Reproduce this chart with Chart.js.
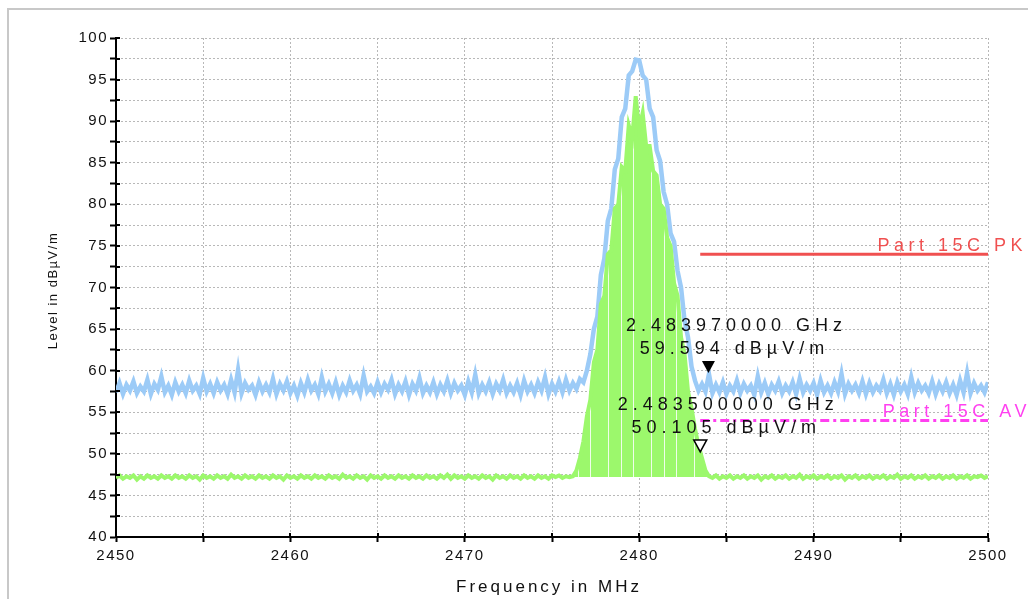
<!DOCTYPE html>
<html>
<head>
<meta charset="utf-8">
<script src="https://cdn.jsdelivr.net/npm/chart.js@4/dist/chart.umd.min.js"></script>
<style>
  body { margin: 0; background: #fff; }
  #spektrum { display: block; }
</style>
</head>
<body>
<canvas id="spektrum" width="1028" height="599"></canvas>
<script>
// sweep: 2450..2500 MHz, one reading every 0.2 MHz
const startMHz = 2450;
const stepMHz = 0.2;

// peak detector trace (blue), dBµV/m
const pkLevels = [
  57.4, 58.5, 57.2, 58.3, 57.6, 58.7, 57.3, 58.1, 57.5, 58.9,
  57.2, 58.4, 57.7, 59.3, 57.4, 58.2, 57.1, 58.6, 57.5, 58.3,
  57.3, 58.8, 57.6, 58.2, 57.2, 59.1, 57.5, 58.4, 57.3, 58.6,
  57.6, 58.3, 57.2, 58.9, 57.4, 60.1, 57.3, 58.5, 57.7, 58.2,
  57.1, 58.6, 57.5, 58.3, 57.4, 59.0, 57.2, 58.4, 57.6, 58.7,
  57.3, 58.2, 57.0, 58.5, 57.4, 58.9, 57.6, 58.3, 57.2, 59.2,
  57.5, 58.4, 57.3, 58.6, 57.1, 58.2, 57.4, 58.8, 57.6, 58.3,
  57.2, 59.4, 57.5, 58.1, 57.3, 58.6, 57.4, 58.4, 57.7, 58.9,
  57.2, 58.3, 57.5, 58.7, 57.1, 58.4, 57.6, 59.1, 57.3, 58.2,
  57.4, 58.6, 57.2, 58.3, 57.5, 58.8, 57.3, 58.5, 57.6, 58.2,
  57.1, 58.7, 57.4, 59.5, 57.3, 58.3, 57.5, 58.6, 57.2, 58.4,
  57.6, 58.9, 57.3, 58.2, 57.4, 58.5, 57.1, 58.8, 57.5, 58.3,
  57.3, 58.6, 57.6, 59.2, 57.2, 58.4, 57.5, 58.7, 57.4, 58.9,
  57.6, 58.5, 57.8, 59.0,
  58.6, 60.0, 62.0, 65.0, 66.5, 71.5, 73.5, 78.0, 79.5, 84.2,
  85.5, 90.5, 91.5, 95.5, 96.0, 97.4, 97.3, 95.5, 95.0, 91.5,
  90.5, 86.5, 85.2, 81.5, 80.0, 76.5, 75.5, 72.0, 70.0, 66.0,
  64.0, 60.5, 58.8, 57.6,
  58.4, 57.5, 59.6, 57.3,
  58.3, 57.4, 58.6, 57.2, 58.2, 57.5, 58.8, 57.3,
  58.4, 57.6, 58.2, 57.1, 59.3, 57.4, 58.5, 57.2, 58.3, 57.6,
  58.7, 57.3, 58.2, 57.5, 58.6, 57.2, 59.0, 57.4, 58.3, 57.6,
  58.5, 57.1, 58.8, 57.4, 58.2, 57.3, 58.6, 57.5, 59.6, 57.2,
  58.4, 57.6, 58.3, 57.3, 58.7, 57.2, 58.5, 57.4, 58.2, 57.6,
  58.9, 57.3, 58.4, 57.1, 58.6, 57.5, 58.3, 57.2, 59.2, 57.4,
  58.5, 57.6, 58.2, 57.3, 58.7, 57.2, 58.4, 57.5, 58.6, 57.3,
  58.3, 57.1, 58.8, 57.4, 59.7, 57.3, 58.5, 57.6, 58.2, 57.4,
  58.6
];

// average detector trace (green), dBµV/m
const avLevels = [
  47.1, 47.4, 47.0, 47.3, 47.1, 47.4, 46.9, 47.3, 47.0, 47.4,
  47.1, 47.3, 47.0, 47.4, 47.1, 47.3, 47.0, 47.4, 47.1, 47.3,
  47.0, 47.4, 47.1, 47.3, 46.9, 47.4, 47.1, 47.3, 47.0, 47.4,
  47.1, 47.3, 47.0, 47.5, 47.1, 47.3, 47.0, 47.4, 47.1, 47.3,
  47.0, 47.4, 47.1, 47.3, 47.0, 47.4, 47.1, 47.3, 46.9, 47.4,
  47.1, 47.3, 47.0, 47.4, 47.1, 47.3, 47.0, 47.4, 47.1, 47.3,
  47.0, 47.4, 47.1, 47.3, 47.0, 47.5, 47.1, 47.3, 47.0, 47.4,
  47.1, 47.3, 46.9, 47.4, 47.1, 47.3, 47.0, 47.4, 47.1, 47.3,
  47.0, 47.4, 47.1, 47.3, 47.0, 47.4, 47.1, 47.3, 47.0, 47.4,
  47.1, 47.3, 47.0, 47.4, 47.1, 47.5, 47.0, 47.4, 47.1, 47.3,
  47.0, 47.4, 47.1, 47.3, 47.0, 47.4, 47.1, 47.3, 46.9, 47.4,
  47.1, 47.3, 47.0, 47.4, 47.1, 47.3, 47.0, 47.4, 47.1, 47.3,
  47.0, 47.4, 47.1, 47.3, 47.0, 47.4, 47.2, 47.4, 47.1, 47.3,
  47.2,
  47.3, 48.0, 49.5, 51.5, 54.5, 56.5, 61.0, 62.5, 68.0, 69.0,
  74.0, 74.5, 79.5, 80.0, 84.5, 84.0, 89.5, 88.0, 93.0, 89.0,
  91.0, 87.0, 87.0, 84.0, 83.5, 80.0, 79.5, 76.0, 75.0, 70.5,
  69.0, 64.0, 62.0, 57.5, 55.5, 53.0, 51.0, 49.5, 48.0, 47.3,
  47.1, 47.4, 47.0, 47.3, 47.1, 47.4, 47.0, 47.3, 47.1, 47.4,
  47.0, 47.3, 47.1, 47.4, 46.9, 47.3, 47.1, 47.4, 47.0, 47.3,
  47.1, 47.4, 47.0, 47.3, 47.1, 47.5, 47.0, 47.3, 47.1, 47.4,
  47.0, 47.3, 47.1, 47.4, 47.0, 47.3, 47.1, 47.4, 46.9, 47.3,
  47.1, 47.4, 47.0, 47.3, 47.1, 47.4, 47.0, 47.3, 47.1, 47.4,
  47.0, 47.3, 47.1, 47.5, 47.0, 47.3, 47.1, 47.4, 47.0, 47.3,
  47.1, 47.4, 47.0, 47.3, 47.1, 47.4, 47.0, 47.3, 47.1, 47.4,
  47.0, 47.3, 47.1, 47.4, 47.0, 47.3, 47.2, 47.4, 47.1, 47.3
];

// limit lines (Part 15C), only above the band edge
const limitFreqs = [2483.5, 2500];
const pkLimit = [74, 74];
const avLimit = [54, 54];
const limitNames = ['Part 15C PK', 'Part 15C AV'];

// markers
const markerFreqs = [2483.97, 2483.5];
const markerLevels = [59.594, 50.105];

const FONT = "'Liberation Sans', Arial, sans-serif";
const GREEN = '#9cf86c';
const BLUE = '#9ccbf7';

function trace(levels) {
    return levels.map((v, i) => ({ x: startMHz + i * stepMHz, y: v }));
}
function limit(levels) {
    return levels.map((v, i) => ({ x: limitFreqs[i], y: v }));
}

// the AV sweep is so dense that its area shows thin light gaps
function streaks() {
    const p = document.createElement('canvas');
    p.width = 43; p.height = 4;
    const g = p.getContext('2d');
    g.fillStyle = GREEN;
    g.fillRect(0, 0, 43, 4);
    g.fillStyle = '#effdea';
    [6, 19, 31].forEach(x => g.fillRect(x, 0, 1, 4));
    return g.createPattern(p, 'repeat');
}

const rahmenPlugin = {
    id: 'rahmen',
    beforeDraw(chart) {
        const c = chart.ctx;
        c.save();
        c.fillStyle = '#fff';
        c.fillRect(0, 0, chart.width, chart.height);
        c.strokeStyle = '#c8c8c8';
        c.lineWidth = 2;
        c.strokeRect(8, 9, chart.width + 20, chart.height + 20);
        c.restore();
        // tick labels of the analyser are slightly spaced
        c.letterSpacing = '1.5px';
    },
    afterDraw(chart) {
        const c = chart.ctx;
        const xs = chart.scales.x, ys = chart.scales.y;
        const area = chart.chartArea;
        c.save();

        // inner half of the cross ticks
        c.strokeStyle = '#000';
        c.lineWidth = 2;
        c.beginPath();
        ys.ticks.forEach(t => {
            const p = Math.round(ys.getPixelForValue(t.value));
            c.moveTo(area.left, p); c.lineTo(area.left + 4, p);
        });
        xs.ticks.forEach(t => {
            const p = Math.round(xs.getPixelForValue(t.value));
            c.moveTo(p, area.bottom); c.lineTo(p, area.bottom - 4);
        });
        c.stroke();

        // axis titles
        c.fillStyle = '#111';
        c.textBaseline = 'middle';
        c.textAlign = 'center';
        c.letterSpacing = '3px';
        c.font = '17px ' + FONT;
        c.fillText('Frequency in MHz', (area.left + area.right) / 2 - 3, 587);
        c.save();
        c.translate(53, (area.top + area.bottom) / 2 + 3);
        c.rotate(-Math.PI / 2);
        c.letterSpacing = '1.5px';
        c.font = '13px ' + FONT;
        c.fillText('Level in dBµV/m', 0, 0);
        c.restore();

        // limit line names
        c.font = '18px ' + FONT;
        c.letterSpacing = '4.5px';
        c.textAlign = 'right';
        c.textBaseline = 'alphabetic';
        c.fillStyle = '#f05050';
        c.fillText(limitNames[0], area.right + 39, ys.getPixelForValue(pkLimit[1]) - 3);
        c.fillStyle = '#ff40f0';
        c.fillText(limitNames[1], area.right + 43, ys.getPixelForValue(avLimit[1]) - 4);

        // markers
        c.textAlign = 'center';
        c.textBaseline = 'middle';
        c.letterSpacing = '5px';
        markerFreqs.forEach((f, i) => {
            const px = xs.getPixelForValue(f);
            const py = ys.getPixelForValue(markerLevels[i]);
            c.beginPath();
            c.moveTo(px, py - 1);
            c.lineTo(px - 6.5, py - 13);
            c.lineTo(px + 6.5, py - 13);
            c.closePath();
            if (i === 0) {
                c.fillStyle = '#000';
                c.fill();
            } else {
                c.fillStyle = '#fff';
                c.fill();
                c.lineWidth = 1.5;
                c.strokeStyle = '#000';
                c.stroke();
            }
            c.fillStyle = '#111';
            c.fillText((f / 1000).toFixed(9) + ' GHz', px + 28, py - 48);
            c.fillText(markerLevels[i].toFixed(3) + ' dBµV/m', px + 26, py - 25);
        });

        c.restore();
        c.letterSpacing = '0px';
    }
};

const ctx = document.getElementById('spektrum');
const spektrum = new Chart(ctx, {
    type: 'line',
    data: {
        datasets: [
            {
                label: 'Part 15C AV',
                data: limit(avLimit),
                borderColor: '#ff40f0',
                borderWidth: 3,
                borderDash: [9, 4, 3, 4],
                pointRadius: 0
            },
            {
                label: 'Part 15C PK',
                data: limit(pkLimit),
                borderColor: '#f05050',
                borderWidth: 3,
                pointRadius: 0
            },
            {
                label: 'AV',
                data: trace(avLevels),
                borderColor: GREEN,
                backgroundColor: streaks(),
                fill: { value: 47.2 },
                borderWidth: 4,
                pointRadius: 0,
                tension: 0
            },
            {
                label: 'PK',
                data: trace(pkLevels),
                borderColor: BLUE,
                borderWidth: 4.5,
                fill: false,
                pointRadius: 0,
                tension: 0
            }
        ]
    },
    options: {
        responsive: false,
        animation: false,
        devicePixelRatio: 1,
        layout: { padding: { top: 38, right: 40, left: 0, bottom: 0 } },
        plugins: {
            legend: { display: false },
            tooltip: { enabled: false }
        },
        scales: {
            x: {
                type: 'linear',
                min: 2450,
                max: 2500,
                afterFit(s) { s.height = 62; },
                ticks: {
                    stepSize: 5,
                    autoSkip: false,
                    maxRotation: 0,
                    padding: 5,
                    color: '#111',
                    font: { family: FONT, size: 15 },
                    callback: v => (v % 10 === 0 ? String(v) : '')
                },
                grid: {
                    color: '#b8b8b8',
                    lineWidth: 1,
                    tickColor: '#000',
                    tickWidth: 2,
                    tickLength: 5
                },
                border: { display: true, color: '#000', width: 2, dash: [2, 2] }
            },
            y: {
                min: 40,
                max: 100,
                afterFit(s) { s.width = 116; },
                ticks: {
                    stepSize: 2.5,
                    autoSkip: false,
                    padding: 2,
                    color: '#111',
                    font: { family: FONT, size: 15 },
                    callback: v => (v % 5 === 0 ? String(v) : '')
                },
                grid: {
                    color: '#b8b8b8',
                    lineWidth: 1,
                    tickColor: '#000',
                    tickWidth: 2,
                    tickLength: 6
                },
                border: { display: true, color: '#000', width: 2, dash: [2, 2] }
            }
        }
    },
    plugins: [rahmenPlugin]
});
</script>
</body>
</html>
